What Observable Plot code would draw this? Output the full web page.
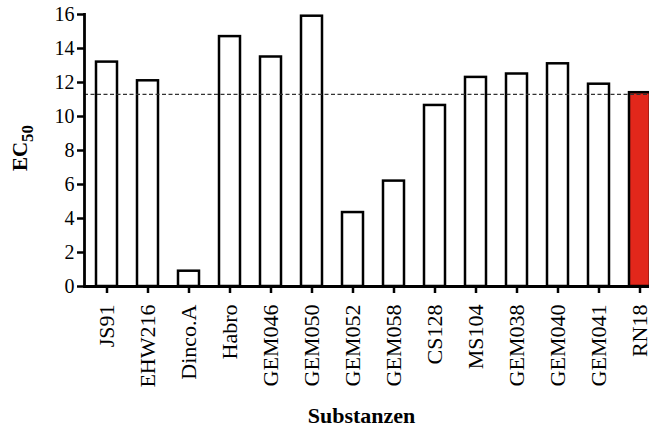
<!DOCTYPE html>
<html>
<head>
<meta charset="utf-8">
<script src="https://cdn.jsdelivr.net/npm/d3@7"></script>
<script src="https://cdn.jsdelivr.net/npm/@observablehq/plot@0.6"></script>
<style>
  html, body { margin: 0; padding: 0; background: #fff; }
  #chart svg { display: block; }
</style>
</head>
<body>
<div id="chart"></div>
<script>
// Data
const substances = ["JS91", "EHW216", "Dinco.A", "Habro", "GEM046", "GEM050", "GEM052", "GEM058", "CS128", "MS104", "GEM038", "GEM040", "GEM041", "RN18"];
const ec50 = [13.2, 12.1, 0.9, 14.7, 13.5, 15.9, 4.35, 6.2, 10.65, 12.3, 12.5, 13.1, 11.9, 11.4];
const highlighted = "RN18";
const referenceLine = [11.3];
const yTicks = [0, 2, 4, 6, 8, 10, 12, 14, 16];
const yTitle = ["EC", "50"];
const xTitle = "Substanzen";

const data = substances.map((name, i) => ({name, value: ec50[i]}));
const red = "#e2271b";
const font = "'Liberation Serif', 'Times New Roman', serif";

const plot = Plot.plot({
  width: 649,
  height: 430,
  marginLeft: 84,
  marginRight: 0,
  marginTop: 14,
  marginBottom: 144,
  style: {fontFamily: font, fontSize: "20px", background: "#fff", color: "#000"},
  x: {domain: substances, range: [75.25, 669.75], padding: 0.5, label: null},
  y: {domain: [0, 16], label: null},
  marks: [
    Plot.barY(data, {
      x: "name",
      y: "value",
      fill: d => d.name === highlighted ? red : "#fff",
      stroke: "#000",
      strokeWidth: 2.5
    }),
    Plot.ruleY(referenceLine, {stroke: "#333", strokeWidth: 1.2, strokeDasharray: "4,2.5"}),
    Plot.ruleY([0], {stroke: "#000", strokeWidth: 2.8}),
    Plot.frame({anchor: "left", stroke: "#000", strokeWidth: 2.8}),
    Plot.axisY({ticks: yTicks, tickSize: 7, tickPadding: 3, fontSize: 20, strokeWidth: 2.5, label: null}),
    Plot.axisX({tickRotate: -90, tickSize: 7, tickPadding: 11, fontSize: 22, strokeWidth: 2.5, label: null})
  ]
});

const svg = d3.select(plot);
svg.selectAll('g[aria-label="y-axis tick label"]').attr("font-size", 20);
svg.selectAll('g[aria-label="x-axis tick label"]').attr("font-size", 22);

// y-axis title with subscript
const yt = svg.append("text")
  .attr("transform", "translate(27,148) rotate(-90)")
  .attr("text-anchor", "middle")
  .attr("font-family", font)
  .attr("font-weight", "bold")
  .attr("font-size", 21)
  .attr("fill", "#000");
yt.append("tspan").text(yTitle[0]);
yt.append("tspan").attr("font-size", 17).attr("dy", 6).text(yTitle[1]);

// x-axis title
svg.append("text")
  .attr("x", 361.5)
  .attr("y", 423)
  .attr("text-anchor", "middle")
  .attr("font-family", font)
  .attr("font-weight", "bold")
  .attr("font-size", 22)
  .attr("fill", "#000")
  .text(xTitle);

document.getElementById("chart").appendChild(plot);
</script>
</body>
</html>
